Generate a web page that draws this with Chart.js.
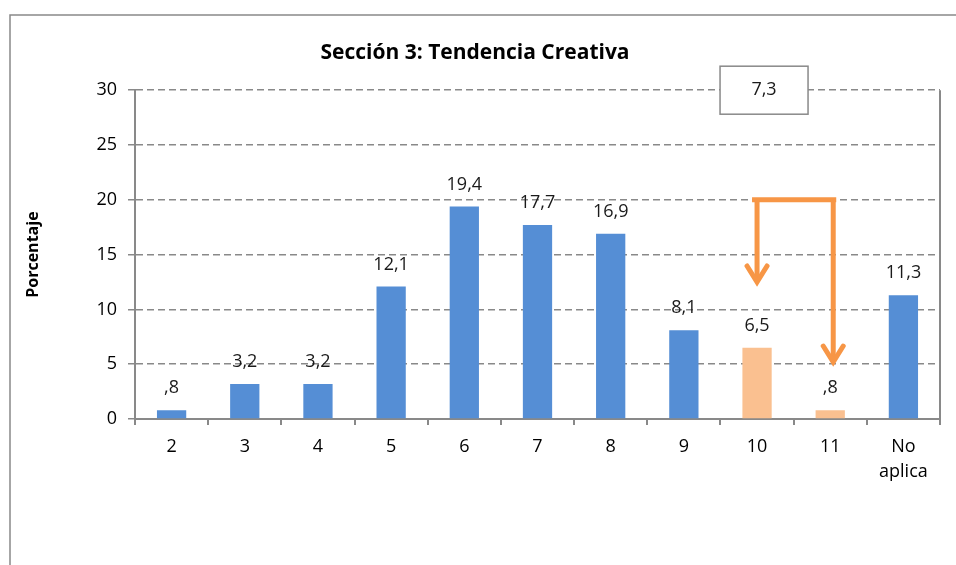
<!DOCTYPE html>
<html>
<head>
    <title>Sección 3: Tendencia Creativa</title>
    <style>
        body{
            margin:0;
            background:white;
        }
        #wrap{
            width:956px;
            height:565px;
        }
    </style>
</head>
<body>
<div id="wrap"><canvas id="tendencia" width="956" height="565"></canvas></div>

<script src="https://cdn.jsdelivr.net/npm/chart.js@4.4.1/dist/chart.umd.min.js"></script>
<script>

    // puntajes de la sección y porcentaje de cada uno
    const categories = ['2', '3', '4', '5', '6', '7', '8', '9', '10', '11', ['No', 'aplica']];
    const porcentaje = [0.8, 3.2, 3.2, 12.1, 19.4, 17.7, 16.9, 8.1, 6.5, 0.8, 11.3];
    const yTicks = [0, 5, 10, 15, 20, 25, 30];

    // los dos puntajes más altos se resaltan y se suman en el recuadro
    const highlighted = ['10', '11'];
    const arrowTop = 20;
    const arrowTips = [12.5, 5.2];

    const blue = '#558ED5';
    const peach = '#FAC090';
    const orange = '#F79646';
    const gray = '#898989';

    const FONT = '"Open Sans", "Liberation Sans", sans-serif';

    function fmt(v) {
        // 0,8 se escribe ,8
        return v.toFixed(1).replace('.', ',').replace(/^0,/, ',');
    }

    const barColors = categories.map(c => highlighted.includes(c) ? peach : blue);
    const highlightIdx = highlighted.map(c => categories.indexOf(c));
    const highlightSum = highlightIdx.reduce((s, i) => s + porcentaje[i], 0);

    const framePlugin = {
        id: 'frame',
        beforeDraw(chart) {
            const ctx = chart.ctx;
            ctx.save();
            ctx.strokeStyle = gray;
            ctx.lineWidth = 1.5;
            ctx.beginPath();
            ctx.moveTo(10, 565);
            ctx.lineTo(10, 15);
            ctx.lineTo(956, 15);
            ctx.stroke();
            ctx.restore();
        },
        afterDraw(chart) {
            const ctx = chart.ctx;
            const a = chart.chartArea;
            ctx.save();
            ctx.strokeStyle = gray;
            ctx.lineWidth = 2;
            ctx.beginPath();
            ctx.moveTo(a.right, a.top);
            ctx.lineTo(a.right, a.bottom + 5);
            ctx.stroke();
            ctx.restore();
        }
    };

    const labelPlugin = {
        id: 'valueLabels',
        afterDatasetsDraw(chart) {
            const ctx = chart.ctx;
            const meta = chart.getDatasetMeta(0);
            ctx.save();
            ctx.font = '18px ' + FONT;
            ctx.fillStyle = '#1a1a1a';
            ctx.textAlign = 'center';
            ctx.textBaseline = 'middle';
            meta.data.forEach((bar, i) => {
                ctx.fillText(fmt(porcentaje[i]), bar.x, bar.y - 22);
            });
            ctx.restore();
        }
    };

    const arrowPlugin = {
        id: 'arrows',
        afterDatasetsDraw(chart) {
            const ctx = chart.ctx;
            const x = chart.scales.x;
            const y = chart.scales.y;
            const xs = highlightIdx.map(i => x.getPixelForValue(i));
            xs[1] += 3;
            const yTop = y.getPixelForValue(arrowTop);

            ctx.save();
            ctx.strokeStyle = orange;
            ctx.lineWidth = 5;
            ctx.lineCap = 'butt';
            ctx.beginPath();
            ctx.moveTo(xs[0] - 5, yTop);
            ctx.lineTo(xs[1] + 3, yTop);
            ctx.stroke();

            xs.forEach((px, k) => {
                const tip = y.getPixelForValue(arrowTips[k]);
                ctx.beginPath();
                ctx.moveTo(px, yTop);
                ctx.lineTo(px, tip - 2);
                ctx.stroke();
                ctx.lineCap = 'round';
                ctx.beginPath();
                ctx.moveTo(px - 10, tip - 16);
                ctx.lineTo(px, tip);
                ctx.lineTo(px + 10, tip - 16);
                ctx.stroke();
                ctx.lineCap = 'butt';
            });

            // recuadro con la suma
            const bx = x.getPixelForValue(highlightIdx[0]) + 7;
            const by = y.getPixelForValue(30);
            ctx.fillStyle = 'white';
            ctx.strokeStyle = gray;
            ctx.lineWidth = 1.5;
            ctx.fillRect(bx - 44, by - 24, 88, 48);
            ctx.strokeRect(bx - 44, by - 24, 88, 48);
            ctx.font = '18px ' + FONT;
            ctx.fillStyle = '#1a1a1a';
            ctx.textAlign = 'center';
            ctx.textBaseline = 'middle';
            ctx.fillText(fmt(highlightSum), bx, by);
            ctx.restore();
        }
    };

    new Chart('tendencia', {
        type: 'bar',
        data: {
            labels: categories,
            datasets: [{
                data: porcentaje,
                backgroundColor: barColors,
                barPercentage: 0.4,
                categoryPercentage: 1
            }]
        },
        options: {
            responsive: false,
            animation: false,
            layout: {padding: {left: 10, right: 16, top: 0, bottom: 0}},
            plugins: {
                legend: {display: false},
                tooltip: {enabled: false},
                title: {
                    display: true,
                    text: 'Sección 3: Tendencia Creativa',
                    color: '#000',
                    font: {family: FONT, size: 21, weight: 'bold'},
                    padding: {top: 40, bottom: 25}
                }
            },
            scales: {
                x: {
                    grid: {display: true, drawOnChartArea: false, tickLength: 6, color: gray, lineWidth: 2},
                    border: {color: gray, width: 2},
                    ticks: {color: '#000', padding: 9, font: {family: FONT, size: 18, lineHeight: 1.4}, maxRotation: 0},
                    afterFit(scale) { scale.height = 146; }
                },
                y: {
                    min: 0,
                    max: 30,
                    afterBuildTicks(scale) { scale.ticks = yTicks.map(v => ({value: v})); },
                    grid: {color: gray, lineWidth: 1.5, tickLength: 7, tickColor: gray},
                    border: {color: gray, width: 2, dash: [7, 4]},
                    ticks: {color: '#000', padding: 11, font: {family: FONT, size: 18}},
                    title: {
                        display: true,
                        text: 'Porcentaje',
                        color: '#000',
                        font: {family: FONT, size: 16, weight: 'bold'},
                        padding: {top: 14, bottom: 0}
                    },
                    afterFit(scale) { scale.width = 125; }
                }
            }
        },
        plugins: [framePlugin, labelPlugin, arrowPlugin]
    });

</script>
</body>
</html>
